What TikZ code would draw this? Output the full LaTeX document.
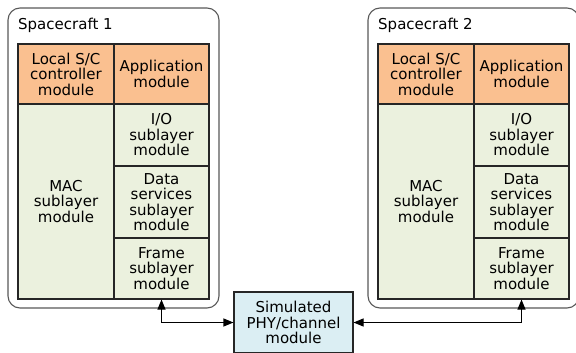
\documentclass[tikz,border=0pt]{standalone}
\usepackage{fontspec}
\setmainfont{DejaVu Sans}
\usetikzlibrary{arrows.meta}
\definecolor{peach}{HTML}{FAC090}
\definecolor{sage}{HTML}{EBF1DE}
\definecolor{ice}{HTML}{DBEEF3}
\tikzset{
 cell/.style={draw=black!85,line width=1.1pt,align=center,inner sep=0pt},
 scbox/.style={draw=black!65,line width=1.1pt,rounded corners=12pt,fill=white}
}

\begin{document}
\begin{tikzpicture}[x=1pt,y=-1pt,>={Triangle[length=10pt,width=8pt]},font=\fontsize{15}{15.5}\selectfont]
 \useasboundingbox (0,0) rectangle (576,353);
 \foreach \n/\x in {1/0,2/360}{
  \node[scbox,minimum width=211pt,minimum height=300pt] (sc\n) at (\x+113.5,158) {};
  \node[anchor=base west,inner sep=0pt] (title\n) at (\x+18,30) {Spacecraft \n};
  \node[cell,fill=peach,minimum width=96pt,minimum height=60pt] (ctrl\n) at (\x+66,74) {Local S/C\\controller\\module};
  \node[cell,fill=peach,minimum width=95pt,minimum height=60pt] (app\n) at (\x+161.5,74) {Application\\module};
  \node[cell,fill=sage,minimum width=96pt,minimum height=195pt] (mac\n) at (\x+66,201.5) {MAC\\sublayer\\module};
  \node[cell,fill=sage,minimum width=95pt,minimum height=62pt] (io\n) at (\x+161.5,135) {I/O\\sublayer\\module};
  \node[cell,fill=sage,minimum width=95pt,minimum height=72pt] (data\n) at (\x+161.5,202) {Data\\services\\sublayer\\module};
  \node[cell,fill=sage,minimum width=95pt,minimum height=61pt] (frame\n) at (\x+161.5,268.5) {Frame\\sublayer\\module};
 }
 \node[cell,fill=ice,minimum width=119pt,minimum height=61pt] (phy) at (293.5,322.5) {Simulated\\PHY/channel\\module};
 \draw[<->,line width=1.1pt] (frame1.south) |- (phy.west);
 \draw[<->,line width=1.1pt] (frame2.south) |- (phy.east);
\end{tikzpicture}
\end{document}
